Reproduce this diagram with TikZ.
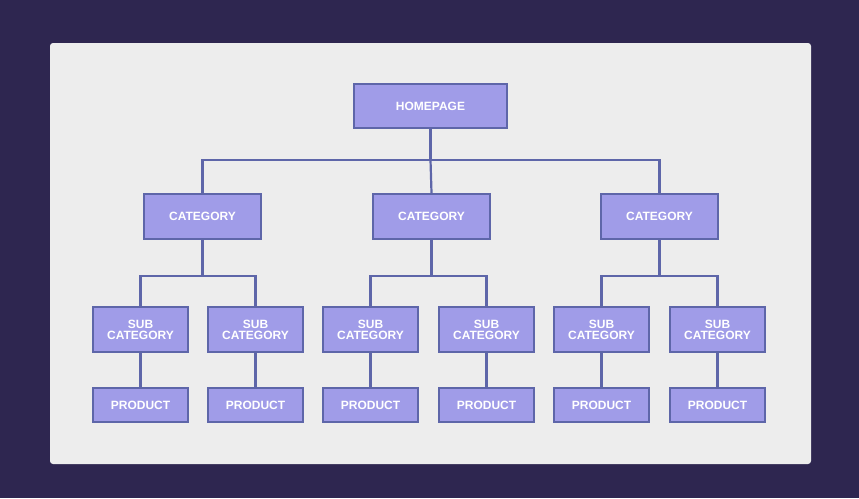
\documentclass[tikz,border=0pt]{standalone}
\usepackage{fontspec}
\setmainfont{Liberation Sans}
\usetikzlibrary{calc}
\definecolor{bgdark}{HTML}{2E2650}
\definecolor{panel}{HTML}{EDEDED}
\definecolor{boxfill}{HTML}{A09CE8}
\definecolor{boxline}{HTML}{5E66A9}
\begin{document}
\begin{tikzpicture}[x=1pt,y=-1pt,
  bx/.style={draw=boxline,fill=boxfill,line width=2.2pt,text=white,font=\bfseries\fontsize{12}{13}\selectfont,align=center,inner sep=0pt},
  cn/.style={draw=boxline,line width=2.2pt}]
\fill[bgdark] (0,0) rectangle (859,498);
\fill[panel,rounded corners=3pt] (50,43) rectangle (811,464);
\node[bx,minimum width=153,minimum height=44] (home) at (430.5,106) {HOMEPAGE};
\foreach \n/\x in {c1/202.5,c2/431.5,c3/659.5}
  \node[bx,minimum width=117,minimum height=45] (\n) at (\x,216.5) {CATEGORY};
\foreach \n/\x in {1/140.5,2/255.5,3/370.5,4/486.5,5/601.5,6/717.5}{
  \node[bx,minimum width=95,minimum height=45] (s\n) at (\x,329.5) {SUB\\[-2pt]CATEGORY};
  \node[bx,minimum width=95,minimum height=34] (p\n) at (\x,405) {PRODUCT};
  \draw[cn] (s\n.south) -- (p\n.north);
}
\coordinate (j0) at (430.5,160);
\draw[cn] (home.south) -- (j0);
\draw[cn] (j0) -| (c1.north);
\draw[cn] (j0) -| (c3.north);
\draw[cn] (j0) -- (c2.north);
\foreach \c/\a/\b in {c1/s1/s2,c2/s3/s4,c3/s5/s6}{
  \coordinate (k\c) at ($(\c.south)+(0,36)$);
  \draw[cn] (\c.south) -- (k\c);
  \draw[cn] (k\c) -| (\a.north);
  \draw[cn] (k\c) -| (\b.north);
}
\end{tikzpicture}
\end{document}
